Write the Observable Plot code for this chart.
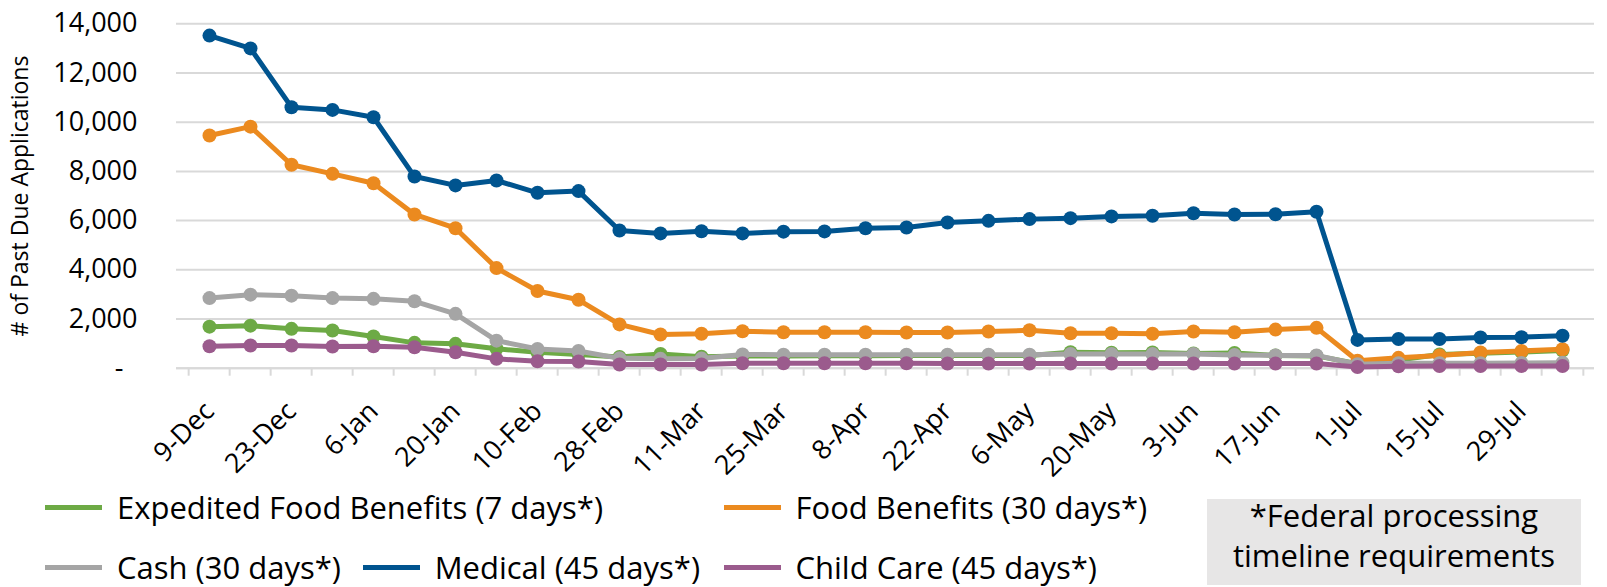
<!DOCTYPE html>
<html>
<head>
<meta charset="utf-8">
<script src="https://cdn.jsdelivr.net/npm/d3@7"></script>
<script src="https://cdn.jsdelivr.net/npm/@observablehq/plot@0.6"></script>
<style>
  html, body { margin: 0; padding: 0; background: #ffffff; }
  body { font-family: "Open Sans", sans-serif; color: #000; }
  #wrap { position: relative; width: 1607px; height: 587px; overflow: hidden; }
  #chart svg { display: block; }
  #legend { position: absolute; left: 0; top: 470px; width: 1607px; height: 117px; }
  .item { position: absolute; height: 36px; line-height: 36px; display: flex; align-items: center; font-size: 31px; white-space: nowrap; }
  .sw { display: inline-block; width: 57px; height: 5px; margin-right: 15px; }
  #notebox { position: absolute; left: 1207px; top: 29px; width: 374px; height: 86px; background: #e7e6e6; }
  #notetext { position: absolute; left: 1207px; top: 25px; width: 374px; font-size: 31px; line-height: 40px; text-align: center; }
</style>
</head>
<body>
<div id="wrap">
  <div id="chart"></div>
  <div id="legend"></div>
</div>
<script>
// ---- data ----
const dates = ["9-Dec","16-Dec","23-Dec","30-Dec","6-Jan","13-Jan","20-Jan","27-Jan","10-Feb","17-Feb",
  "28-Feb","4-Mar","11-Mar","18-Mar","25-Mar","1-Apr","8-Apr","15-Apr","22-Apr","29-Apr",
  "6-May","13-May","20-May","27-May","3-Jun","10-Jun","17-Jun","24-Jun","1-Jul","8-Jul",
  "15-Jul","22-Jul","29-Jul","5-Aug"];
const labeledDates = ["9-Dec","23-Dec","6-Jan","20-Jan","10-Feb","28-Feb","11-Mar","25-Mar","8-Apr",
  "22-Apr","6-May","20-May","3-Jun","17-Jun","1-Jul","15-Jul","29-Jul"];
const yTicks = [0, 2000, 4000, 6000, 8000, 10000, 12000, 14000];

const seriesNames = ["Expedited Food Benefits (7 days*)", "Food Benefits (30 days*)", "Cash (30 days*)",
  "Medical (45 days*)", "Child Care (45 days*)"];
const seriesColors = ["#6DAA45", "#EB8A1F", "#A5A5A5", "#00548F", "#9B5B8D"];

const expedited = [1690,1730,1600,1530,1290,1030,990,790,650,560,460,580,470,500,500,510,510,520,520,520,
  520,650,630,640,600,620,520,500,180,330,560,610,660,720];
const food = [9460,9820,8270,7900,7520,6250,5690,4070,3140,2780,1780,1370,1400,1500,1460,1460,1460,1450,1450,1490,
  1540,1420,1420,1400,1490,1460,1570,1640,300,420,520,640,700,770];
const cash = [2850,2990,2950,2850,2820,2720,2210,1120,780,700,400,380,390,560,550,550,550,550,550,550,
  550,580,580,580,580,540,520,520,160,200,200,200,210,220];
const medical = [13520,13000,10610,10500,10200,7790,7430,7630,7130,7200,5600,5480,5570,5480,5550,5560,5690,5720,5920,5990,
  6060,6100,6170,6200,6300,6250,6260,6360,1150,1190,1190,1250,1260,1320];
const childCare = [890,920,920,880,890,850,650,380,280,270,150,150,150,200,200,200,200,200,190,190,
  190,190,190,190,190,190,190,190,50,80,90,90,90,90];

const noteLines = ["*Federal processing", "timeline requirements"];
const yTitle = "# of Past Due Applications";

// ---- layout ----
const W = 1607, H = 470, ML = 176, MR = 13, MT = 23.3, MB = H - 367.7;
const bw = (W - ML - MR) / dates.length;
const gridColor = "#d9d9d9";

const seriesValues = [expedited, food, cash, medical, childCare];
const table = [];
seriesValues.forEach((vals, s) => vals.forEach((v, i) => table.push({series: seriesNames[s], date: dates[i], value: v})));

const marks = [
  Plot.gridY(yTicks, {stroke: gridColor, strokeWidth: 2, strokeOpacity: 1}),
  Plot.ruleY([0], {stroke: gridColor, strokeWidth: 2}),
  Plot.ruleX(dates, {x: d => d, y1: 0, y2: 0, dx: -bw / 2, insetBottom: -8, stroke: gridColor, strokeWidth: 2}),
  Plot.ruleX([dates[dates.length - 1]], {x: d => d, y1: 0, y2: 0, dx: bw / 2, insetBottom: -8, stroke: gridColor, strokeWidth: 2}),
  Plot.axisY(yTicks, {label: null, tickSize: 0, tickPadding: 39, fontSize: 27,
    tickFormat: d => d === 0 ? "-\u00a0\u00a0" : d3.format(",")(d)}),
  Plot.text(labeledDates, {x: d => d, y: 0, text: d => d, rotate: -45, textAnchor: "end", lineAnchor: "middle",
    fontSize: 27, dx: 0, dy: 38.5}),
  Plot.text([yTitle], {frameAnchor: "left", text: d => d, rotate: -90, textAnchor: "middle", lineAnchor: "middle",
    dx: -156, fontSize: 23})
];
seriesNames.forEach((name, s) => {
  const rows = table.filter(r => r.series === name);
  marks.push(Plot.line(rows, {x: "date", y: "value", stroke: seriesColors[s], strokeWidth: 5}));
  marks.push(Plot.dot(rows, {x: "date", y: "value", fill: seriesColors[s], r: 7}));
});

const chart = Plot.plot({
  width: W, height: H,
  marginLeft: ML, marginRight: MR, marginTop: MT, marginBottom: MB,
  x: {type: "point", domain: dates, padding: 0.5, axis: null},
  y: {domain: [0, 14000], axis: null},
  style: {fontFamily: "Open Sans", color: "#000", background: "transparent", overflow: "visible"},
  marks
});
document.getElementById("chart").appendChild(chart);

// ---- legend ----
const legendPos = [
  {left: 45, top: 19}, {left: 723.5, top: 19},
  {left: 45, top: 79}, {left: 362.7, top: 79}, {left: 723.5, top: 79}
];
const legend = document.getElementById("legend");
seriesNames.forEach((name, s) => {
  const it = document.createElement("div");
  it.className = "item";
  it.style.left = legendPos[s].left + "px";
  it.style.top = legendPos[s].top + "px";
  const sw = document.createElement("span");
  sw.className = "sw";
  sw.style.background = seriesColors[s];
  it.appendChild(sw);
  const tx = document.createElement("span");
  tx.textContent = name;
  it.appendChild(tx);
  legend.appendChild(it);
});
const box = document.createElement("div");
box.id = "notebox";
legend.appendChild(box);
const nt = document.createElement("div");
nt.id = "notetext";
nt.innerHTML = noteLines.join("<br>");
legend.appendChild(nt);
</script>
</body>
</html>
